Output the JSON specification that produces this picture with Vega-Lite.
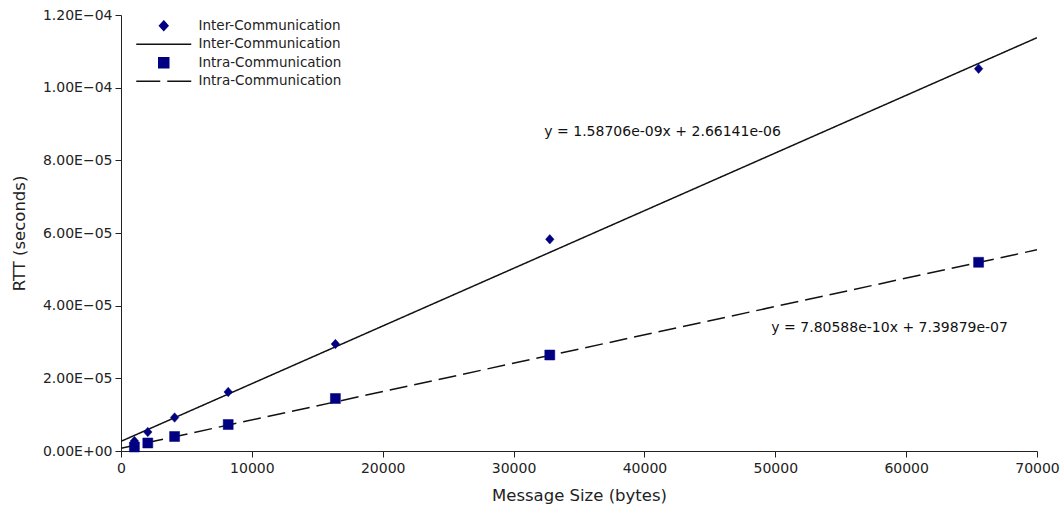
{
  "$schema": "https://vega.github.io/schema/vega-lite/v6.json",
  "autosize": {"type": "none"},
  "width": 916,
  "height": 436,
  "padding": {"left": 121, "top": 15, "right": 26, "bottom": 59},
  "background": "white",
  "config": {
    "view": {"stroke": null},
    "font": "DejaVu Sans",
    "axis": {
      "grid": false,
      "domainColor": "#222222",
      "tickColor": "#222222",
      "labelColor": "#222222",
      "titleColor": "#222222",
      "labelFont": "DejaVu Sans",
      "titleFont": "DejaVu Sans",
      "labelFontSize": 14,
      "titleFontSize": 16.5,
      "titleFontWeight": "normal",
      "tickSize": 6,
      "domainWidth": 1,
      "tickWidth": 1
    },
    "legend": {
      "labelFont": "DejaVu Sans",
      "labelFontSize": 13.5,
      "labelColor": "#222222",
      "symbolSize": 100,
      "symbolStrokeWidth": 1.5
    }
  },
  "datasets": {
    "points": [
      {"size": 1024, "rtt": 2.75e-6, "key": "inter_pts"},
      {"size": 2048, "rtt": 5.23e-6, "key": "inter_pts"},
      {"size": 4096, "rtt": 9.22e-6, "key": "inter_pts"},
      {"size": 8192, "rtt": 1.624e-5, "key": "inter_pts"},
      {"size": 16384, "rtt": 2.945e-5, "key": "inter_pts"},
      {"size": 32768, "rtt": 5.827e-5, "key": "inter_pts"},
      {"size": 65536, "rtt": 1.0522e-4, "key": "inter_pts"},
      {"size": 1024, "rtt": 1.1e-6, "key": "intra_pts"},
      {"size": 2048, "rtt": 2.2e-6, "key": "intra_pts"},
      {"size": 4096, "rtt": 3.99e-6, "key": "intra_pts"},
      {"size": 8192, "rtt": 7.29e-6, "key": "intra_pts"},
      {"size": 16384, "rtt": 1.445e-5, "key": "intra_pts"},
      {"size": 32768, "rtt": 2.642e-5, "key": "intra_pts"},
      {"size": 65536, "rtt": 5.194e-5, "key": "intra_pts"}
    ],
    "fits": [
      {"size": 0, "rtt": 2.66141e-6, "key": "inter_fit"},
      {"size": 70000, "rtt": 1.1375561e-4, "key": "inter_fit"},
      {"size": 0, "rtt": 7.39879e-7, "key": "intra_fit"},
      {"size": 70000, "rtt": 5.538104e-5, "key": "intra_fit"}
    ],
    "notes": [
      {"size": 32350, "rtt": 8.78e-5, "label": "y = 1.58706e-09x + 2.66141e-06"},
      {"size": 49700, "rtt": 3.385e-5, "label": "y = 7.80588e-10x + 7.39879e-07"}
    ]
  },
  "encoding": {
    "x": {
      "field": "size",
      "type": "quantitative",
      "scale": {"domain": [0, 70000], "nice": false, "zero": false},
      "axis": {
        "title": "Message Size (bytes)",
        "values": [0, 10000, 20000, 30000, 40000, 50000, 60000, 70000],
        "format": "d",
        "labelFlush": false,
        "labelPadding": 4,
        "titlePadding": 12
      }
    },
    "y": {
      "field": "rtt",
      "type": "quantitative",
      "scale": {"domain": [0, 0.00012], "nice": false, "zero": false},
      "axis": {
        "title": "RTT (seconds)",
        "values": [0, 0.00002, 0.00004, 0.00006, 0.00008, 0.0001, 0.00012],
        "labelPadding": 3,
        "titlePadding": 15,
        "labelFlush": false,
        "labelExpr": "datum.value == 0 ? '0.00E+00' : format(datum.value / pow(10, floor(log(datum.value) / LN10 + 1e-9)), '.2f') + 'E\u2212' + (abs(floor(log(datum.value) / LN10 + 1e-9)) < 10 ? '0' : '') + abs(floor(log(datum.value) / LN10 + 1e-9))"
      }
    }
  },
  "layer": [
    {
      "data": {"name": "fits"},
      "mark": {"type": "line", "color": "#111111", "strokeWidth": 1.5, "clip": true},
      "encoding": {
        "strokeDash": {
          "field": "key",
          "type": "nominal",
          "scale": {"domain": ["inter_fit", "intra_fit"], "range": [[1, 0], [18, 7]]},
          "legend": null
        }
      }
    },
    {
      "data": {"name": "points"},
      "mark": {"type": "point", "filled": true, "opacity": 1, "color": "#000080", "size": 100, "strokeWidth": 0.5},
      "encoding": {
        "shape": {
          "field": "key",
          "type": "nominal",
          "scale": {
            "domain": ["inter_pts", "inter_fit", "intra_pts", "intra_fit"],
            "range": ["M0,-0.95L0.85,0L0,0.95L-0.85,0Z", "M-5.5,0H5.5", "square", "M-5.5,0H-0.7M0.7,0H5.5"]
          },
          "legend": {
            "title": null,
            "orient": "none",
            "legendX": 36,
            "legendY": 4,
            "labelOffset": 28,
            "rowPadding": 2.5,
            "padding": 0,
            "labelExpr": "indexof(['inter_pts','inter_fit'], datum.value) >= 0 ? 'Inter-Communication' : 'Intra-Communication'"
          }
        },
        "stroke": {
          "field": "key",
          "type": "nominal",
          "scale": {
            "domain": ["inter_pts", "inter_fit", "intra_pts", "intra_fit"],
            "range": ["#000080", "#111111", "#000080", "#111111"]
          },
          "legend": {
            "title": null,
            "orient": "none",
            "legendX": 36,
            "legendY": 4,
            "labelOffset": 28,
            "rowPadding": 2.5,
            "padding": 0,
            "labelExpr": "indexof(['inter_pts','inter_fit'], datum.value) >= 0 ? 'Inter-Communication' : 'Intra-Communication'"
          }
        }
      }
    },
    {
      "data": {"name": "notes"},
      "mark": {"type": "text", "align": "left", "baseline": "middle", "fontSize": 14, "font": "DejaVu Sans", "color": "#111111"},
      "encoding": {
        "text": {"field": "label", "type": "nominal"}
      }
    }
  ]
}
